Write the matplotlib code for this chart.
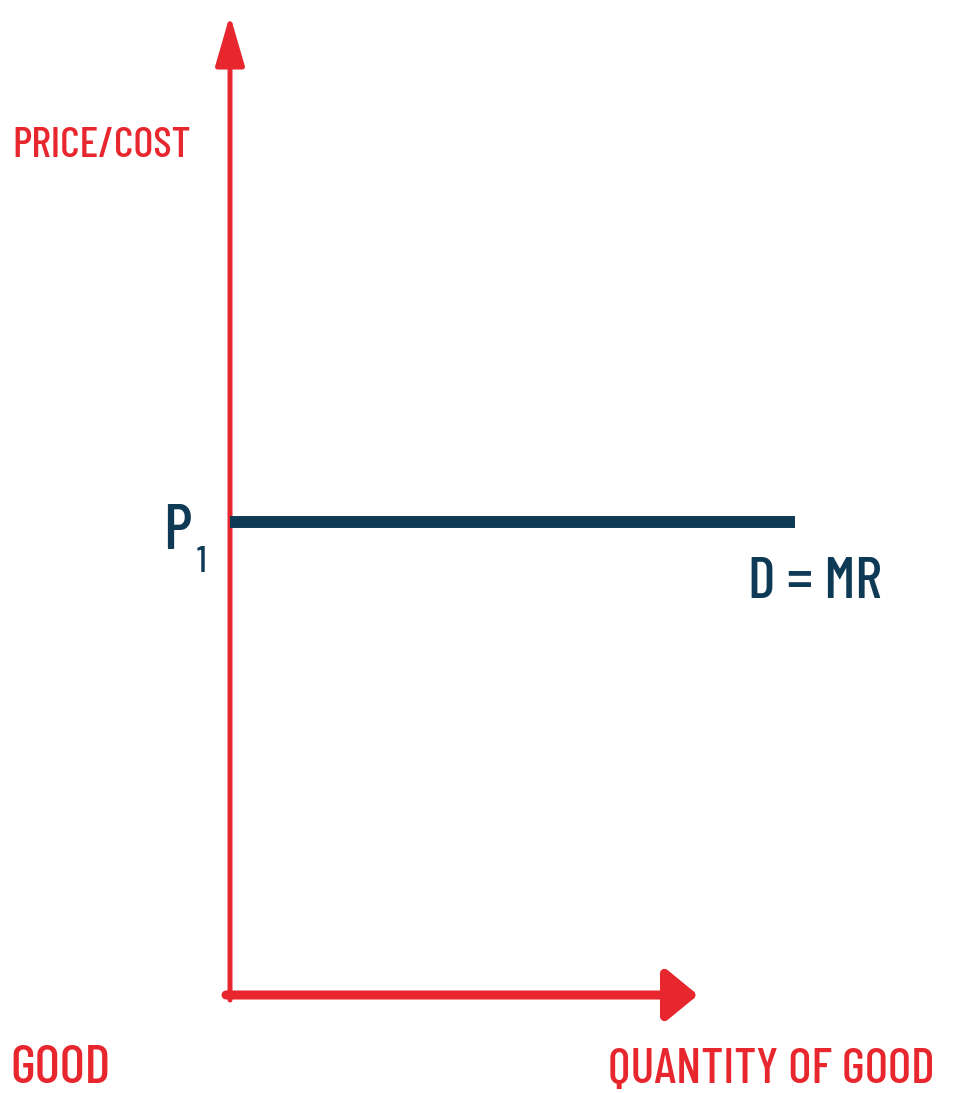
import matplotlib.pyplot as plt
from matplotlib.patches import FancyArrowPatch

# colours
red = '#e8262e'
navy = '#0e3a56'
fam = ['Barlow Condensed', 'DejaVu Sans']

# data (units = pixels from the origin)
y_axis_top = 980
x_axis_end = 468
quantity = [0, 565]
price = [473, 473]

fig = plt.figure(figsize=(9.56, 10.93), dpi=100)
ax = fig.add_axes([0, 0, 1, 1])
ax.set_xlim(-230, 726)
ax.set_ylim(-98, 995)
ax.axis('off')

# axes with arrow heads
ax.add_patch(FancyArrowPatch((0, -5), (0, y_axis_top), arrowstyle='-|>,head_length=1.55,head_width=0.45',
                             mutation_scale=20, color=red, lw=3.6, shrinkA=0, shrinkB=0))
ax.add_patch(FancyArrowPatch((-4, 0), (x_axis_end, 0), arrowstyle='-|>,head_length=0.95,head_width=0.78',
                             mutation_scale=20, color=red, lw=6.5, shrinkA=0, shrinkB=0))

# demand = marginal revenue
ax.plot(quantity, price, color=navy, lw=8.6, solid_capstyle='butt')

# labels
kw = dict(family=fam, fontweight='medium', va='baseline')
ax.text(-218, 838, 'PRICE/COST', color=red, fontsize=31, ha='left', **kw)
ax.text(-220, -88, 'GOOD', color=red, fontsize=39, ha='left', **kw)
ax.text(705, -88, 'QUANTITY OF GOOD', color=red, fontsize=36, ha='right', **kw)
ax.text(-67, 446, 'P', color=navy, fontsize=46, ha='left', **kw)
ax.text(-29, 423, '1', color=navy, fontsize=26, ha='center', **kw)
ax.text(518, 397, 'D = MR', color=navy, fontsize=42, ha='left', **kw)

plt.savefig('out.png', dpi=100)
